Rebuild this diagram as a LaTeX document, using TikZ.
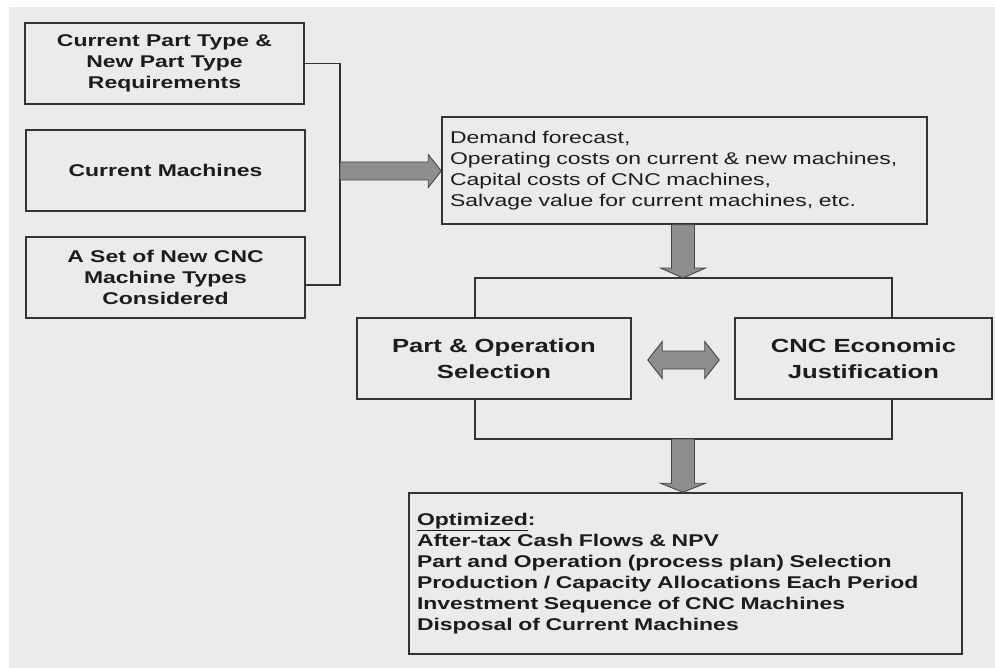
\documentclass[tikz,border=0pt]{standalone}
\usepackage{fontspec}
\setmainfont[FakeStretch=1.35]{Liberation Sans}
\usetikzlibrary{calc}

\definecolor{paper}{HTML}{EBEBEB}
\definecolor{edge}{HTML}{333333}
\definecolor{ink}{HTML}{1C1C1C}
\definecolor{arrowfill}{HTML}{8E8E8E}
\definecolor{arrowedge}{HTML}{454545}

\begin{document}
\begin{tikzpicture}[x=1pt, y=-1pt,
  box/.style={draw=edge, line width=1.5pt, fill=paper, text=ink, inner sep=0pt,
    align=center, font=\fontsize{17}{21}\selectfont\bfseries},
  bigbox/.style={box, font=\fontsize{19}{26}\selectfont\bfseries},
  listbox/.style={box, align=left, inner xsep=8pt},
  link/.style={draw=edge, line width=1.5pt},
  fat/.style={fill=arrowfill, draw=arrowedge, line width=0.9pt, line join=miter}
]
% canvas
\useasboundingbox (0,0) rectangle (995,668);
\fill[white] (0,0) rectangle (995,668);
\fill[paper] (9,7) rectangle (995,668);

% input boxes
\node[box, minimum width=279pt, minimum height=81pt] (req) at (164.5,63.5)
  {Current Part Type \&\\New Part Type\\Requirements};
\node[box, minimum width=279pt, minimum height=81pt] (cur) at (165.5,170.5)
  {Current Machines};
\node[box, minimum width=279pt, minimum height=81pt] (cnc) at (165.5,277.5)
  {A Set of New CNC\\Machine Types\\Considered};

% data box
\node[listbox, font=\fontsize{17}{21}\selectfont, text width=469pt,
      minimum height=107pt] (data) at (684.5,170.5)
  {Demand forecast,\\Operating costs on current \& new machines,\\
   Capital costs of CNC machines,\\Salvage value for current machines, etc.};

% model boxes
\node[bigbox, minimum width=274pt, minimum height=81pt] (sel) at (494,358.5)
  {Part \& Operation\\Selection};
\node[bigbox, minimum width=257pt, minimum height=81pt] (eco) at (863.5,358.5)
  {CNC Economic\\Justification};

% results box
\node[listbox, text width=537pt, minimum height=161pt] (res) at (685.5,573.5)
  {\underline{Optimized}:\\After-tax Cash Flows \& NPV\\
   Part and Operation (process plan) Selection\\
   Production / Capacity Allocations Each Period\\
   Investment Sequence of CNC Machines\\Disposal of Current Machines};

% helper coordinates
\coordinate (bb) at (340,285);
\coordinate (lx) at (475,0);
\coordinate (rx) at (892,0);
\coordinate (jt) at (683,278);
\coordinate (jb) at (683,439);
\coordinate (ja) at (340,171);

% bracket joining the inputs
\draw[link] (req.east) -| (bb) -- (cnc.east |- bb);

% frame joining the two model boxes
\draw[link] (sel.north -| lx) |- (jt) -| (eco.north -| rx);
\draw[link] (sel.south -| lx) |- (jb) -| (eco.south -| rx);

% inputs -> data
\coordinate (ta) at (data.west |- ja);
\draw[fat] ($(ja)+(0,-9)$) -- ($(ta)+(-13,-9)$) -- ($(ta)+(-13,-16.5)$)
  -- (ta) -- ($(ta)+(-13,16.5)$) -- ($(ta)+(-13,9)$) -- ($(ja)+(0,9)$) -- cycle;

% data -> model
\coordinate (sa) at (data.south -| jt);
\draw[fat] ($(sa)+(-11.5,0)$) -- ($(jt)+(-11.5,-10)$) -- ($(jt)+(-22.5,-10)$)
  -- (jt) -- ($(jt)+(22.5,-10)$) -- ($(jt)+(11.5,-10)$) -- ($(sa)+(11.5,0)$) -- cycle;

% model -> results
\coordinate (tb) at (res.north -| jb);
\draw[fat] ($(jb)+(-11.5,0)$) -- ($(tb)+(-11.5,-9)$) -- ($(tb)+(-22.5,-9)$)
  -- (tb) -- ($(tb)+(22.5,-9)$) -- ($(tb)+(11.5,-9)$) -- ($(jb)+(11.5,0)$) -- cycle;

% selection <-> justification
\coordinate (dl) at ($(sel.east)+(16,1.5)$);
\coordinate (dr) at ($(eco.west |- dl)+(-15,0)$);
\draw[fat] (dl) -- ($(dl)+(14.5,-18.5)$) -- ($(dl)+(14.5,-9)$) -- ($(dr)+(-14.5,-9)$)
  -- ($(dr)+(-14.5,-18.5)$) -- (dr) -- ($(dr)+(-14.5,18.5)$) -- ($(dr)+(-14.5,9)$)
  -- ($(dl)+(14.5,9)$) -- ($(dl)+(14.5,18.5)$) -- cycle;
\end{tikzpicture}
\end{document}
